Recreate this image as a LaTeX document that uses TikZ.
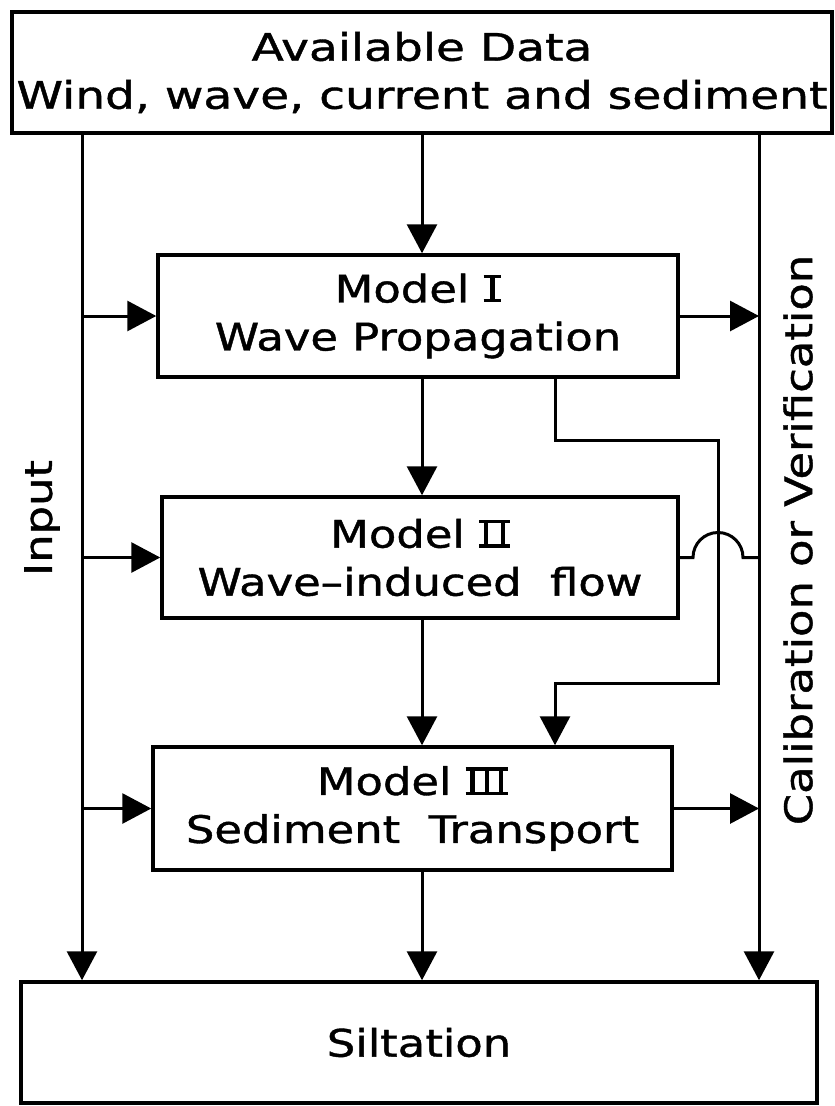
\documentclass[tikz,border=0pt]{standalone}
\usepackage{fontspec}
\setmainfont{DejaVu Sans}[FakeBold=1]
\usepackage{graphicx}
\usetikzlibrary{arrows.meta}
\newcommand{\hs}[1]{\scalebox{1.18}[1]{#1}}
\newcommand{\hst}[1]{\scalebox{1.24}[1]{#1}}
% roman numeral glyph built from rules: #1 width, #2 stems
\newcommand{\rnstem}{\vrule width 3.6pt height 21pt depth 0pt}
\newcommand{\RnOne}{\vbox{\hrule height 3.4pt width 15pt
  \hbox to 15pt{\hfil\rnstem\hfil}\hrule height 3.4pt width 15pt}}
\newcommand{\RnTwo}{\vbox{\hrule height 3.4pt width 26pt
  \hbox to 26pt{\hskip 4pt\rnstem\hfil\rnstem\hskip 4pt}\hrule height 3.4pt width 26pt}}
\newcommand{\RnThree}{\vbox{\hrule height 3.4pt width 36pt
  \hbox to 36pt{\hskip 4pt\rnstem\hfil\rnstem\hfil\rnstem\hskip 4pt}\hrule height 3.4pt width 36pt}}
\begin{document}
\begin{tikzpicture}[x=1pt,y=-1pt,
  every node/.style={font=\fontsize{38}{48}\selectfont, inner sep=0pt},
  boxnode/.style={draw, line width=3.5pt, align=center},
  conn/.style={line width=3pt},
  arr/.style={conn, -{Triangle[length=29pt,width=30pt]}}]
\useasboundingbox (0,0) rectangle (835,1106);
\fill[white] (0,0) rectangle (835,1106);
% boxes
\node[boxnode, minimum width=820pt, minimum height=121pt] (top) at (422,72.5)
  {\hst{Available Data}\\\hst{Wind, wave, current and sediment}};
\node[boxnode, minimum width=520pt, minimum height=122pt] (m1) at (418,316)
  {\hs{Model\ \RnOne}\\\hs{Wave Propagation}};
\node[boxnode, minimum width=516pt, minimum height=121pt] (m2) at (420,557.5)
  {\hs{Model\ \RnTwo}\\\hs{Wave–induced\ \ flow}};
\node[boxnode, minimum width=519pt, minimum height=123pt] (m3) at (412.5,808.5)
  {\hs{Model\ \RnThree}\\\hs{Sediment\ \ Transport}};
\node[boxnode, minimum width=796pt, minimum height=121pt] (silt) at (419,1042.5)
  {\hs{Siltation}};
% side labels
\node[rotate=90] (inp) at (42,518) {\hs{Input}};
\node[rotate=90] (cal) at (798,540) {\hs{Calibration or Verification}};
% reference coordinates
\coordinate (L) at (82,0);
\coordinate (R) at (759,0);
\coordinate (C) at (422,0);
\coordinate (bx) at (555,0);
\coordinate (jx) at (718,0);
\coordinate (ya) at (0,440);
\coordinate (yb) at (0,683);
% left input line
\draw[arr] (top.south -| L) -- (silt.north -| L);
\draw[arr] (m1.west -| L) -- (m1.west);
\draw[arr] (m2.west -| L) -- (m2.west);
\draw[arr] (m3.west -| L) -- (m3.west);
% right calibration line
\draw[arr] (top.south -| R) -- (silt.north -| R);
\draw[arr] (m1.east) -- (m1.east -| R);
\draw[arr] (m3.east) -- (m3.east -| R);
\draw[conn] (m2.east) -- ([xshift=-25pt]m2.east -| jx)
  arc[start angle=180, end angle=0, radius=25pt] -- (m2.east -| R);
% centre chain
\draw[arr] (top.south -| C) -- (m1.north -| C);
\draw[arr] (m1.south -| C) -- (m2.north -| C);
\draw[arr] (m2.south -| C) -- (m3.north -| C);
\draw[arr] (m3.south -| C) -- (silt.north -| C);
% bypass from Model I to Model III
\draw[arr] (m1.south -| bx) -- (bx |- ya) -- (jx |- ya) -- (jx |- yb)
  -- (bx |- yb) -- (m3.north -| bx);
\end{tikzpicture}
\end{document}
